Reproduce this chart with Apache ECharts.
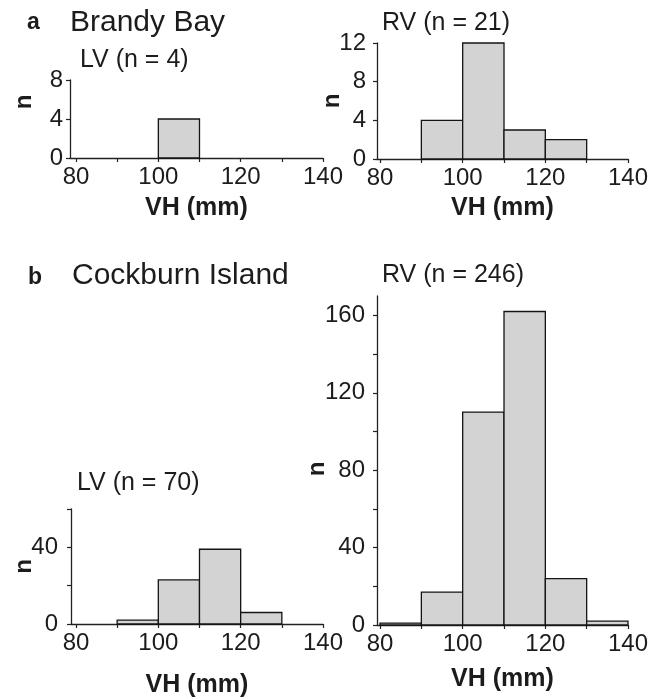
<!DOCTYPE html>
<html>
<head>
<meta charset="utf-8">
<script src="https://cdn.jsdelivr.net/npm/echarts@6/dist/echarts.min.js"></script>
<style>
html,body{margin:0;padding:0;background:#fff;}
#c{width:665px;height:699px;}
</style>
</head>
<body>
<div id="c"></div>
<script>
// ---- data ----
var binEdges = [80, 90, 100, 110, 120, 130, 140];
var brandyLV = [0, 0, 4, 0, 0, 0];
var brandyRV = [0, 4, 12, 3, 2, 0];
var cockburnLV = [0, 2, 23, 39, 6, 0];
var cockburnRV = [1, 17, 110, 162, 24, 2];
var xTicks = [80, 90, 100, 110, 120, 130, 140];
var xLabels = [80, 100, 120, 140];
var yTicksBrandyLV = [0, 4, 8];
var yTicksBrandyRV = [0, 4, 8, 12];
var yTicksCockLV = [0, 20, 40, 60];
var yLabelsCockLV = [0, 40];
var yTicksCockRV = [0, 20, 40, 60, 80, 100, 120, 140, 160];
var yLabelsCockRV = [0, 40, 80, 120, 160];
var panelTitles = ['a', 'Brandy Bay', 'b', 'Cockburn Island'];
var subTitles = ['LV (n = 4)', 'RV (n = 21)', 'LV (n = 70)', 'RV (n = 246)'];
var xName = 'VH (mm)';
var yName = 'n';

function toItems(counts) {
  var out = [];
  for (var i = 0; i < counts.length; i++) {
    if (counts[i] > 0) out.push([binEdges[i], binEdges[i + 1], counts[i]]);
  }
  return out;
}

var FONT = '"Liberation Sans", Arial, sans-serif';
var TXT = '#1c1c1c';

function xAxis(idx, min, nameGap) {
  return {
    type: 'value', gridIndex: idx, min: min, max: 140,
    axisLine: {show: true, lineStyle: {color: '#222', width: 1.3}},
    axisTick: {show: true, customValues: xTicks, length: 4, lineStyle: {color: '#222', width: 1.2}},
    axisLabel: {customValues: xLabels, color: TXT, fontSize: 24, fontFamily: FONT, margin: 7},
    splitLine: {show: false},
    name: xName, nameLocation: 'middle', nameGap: nameGap, nameMoveOverlap: false,
    nameTextStyle: {fontSize: 25, fontWeight: 'bold', color: TXT, fontFamily: FONT}
  };
}
function yAxis(idx, max, ticks, labels, margin, nameGap, pad) {
  return {
    type: 'value', gridIndex: idx, min: 0, max: max,
    axisLine: {show: true, lineStyle: {color: '#222', width: 1.3}},
    axisTick: {show: true, customValues: ticks, length: 4, lineStyle: {color: '#222', width: 1.2}},
    axisLabel: {customValues: labels, color: TXT, fontSize: 24, fontFamily: FONT, margin: margin},
    splitLine: {show: false},
    name: yName, nameLocation: 'middle', nameGap: nameGap, nameRotate: 90, nameMoveOverlap: false,
    nameTextStyle: {fontSize: 24, fontWeight: 'bold', color: TXT, fontFamily: FONT, padding: pad}
  };
}
function histSeries(idx, counts) {
  return {
    type: 'custom', xAxisIndex: idx, yAxisIndex: idx,
    data: toItems(counts),
    encode: {x: [0, 1], y: 2},
    renderItem: function (params, api) {
      var p1 = api.coord([api.value(0), api.value(2)]);
      var p2 = api.coord([api.value(1), 0]);
      return {
        type: 'rect',
        shape: {x: p1[0], y: p1[1], width: p2[0] - p1[0], height: p2[1] - p1[1]},
        style: {fill: '#d3d3d3', stroke: '#141414', lineWidth: 1.3}
      };
    },
    silent: true
  };
}
function txt(s, x, y, size, bold) {
  return {
    type: 'text', x: x, y: y,
    style: {text: s, fill: TXT, font: (bold ? 'bold ' : '') + size + 'px ' + FONT, verticalAlign: 'middle', align: 'left'}
  };
}

var chart = echarts.init(document.getElementById('c'));
chart.setOption({
  backgroundColor: '#fff',
  animation: false,
  grid: [
    {left: 70, top: 80, width: 253, height: 78},
    {left: 377, top: 43, width: 251, height: 116},
    {left: 71, top: 509, width: 252, height: 117},
    {left: 377, top: 296, width: 251, height: 329}
  ],
  xAxis: [
    xAxis(0, 78.54, 38),
    xAxis(1, 79.27, 37),
    xAxis(2, 78.79, 49),
    xAxis(3, 79.27, 42)
  ],
  yAxis: [
    yAxis(0, 8, yTicksBrandyLV, yTicksBrandyLV, 7, 34, [0, 0, 0, 34]),
    yAxis(1, 12, yTicksBrandyRV, yTicksBrandyRV, 11, 33, 0),
    yAxis(2, 60, yTicksCockLV, yLabelsCockLV, 13, 35, 0),
    yAxis(3, 170, yTicksCockRV, yLabelsCockRV, 12, 48, [0, 17, 0, 0])
  ],
  series: [
    histSeries(0, brandyLV),
    histSeries(1, brandyRV),
    histSeries(2, cockburnLV),
    histSeries(3, cockburnRV)
  ],
  graphic: [
    txt(panelTitles[0], 27, 23, 23, true),
    txt(panelTitles[1], 70, 23, 30, false),
    txt(panelTitles[2], 28, 278, 23, true),
    txt(panelTitles[3], 72, 276, 30, false),
    txt(subTitles[0], 80, 60, 25, false),
    txt(subTitles[1], 382, 23, 25, false),
    txt(subTitles[2], 77, 483, 25, false),
    txt(subTitles[3], 382, 275, 25, false)
  ]
});
</script>
</body>
</html>
